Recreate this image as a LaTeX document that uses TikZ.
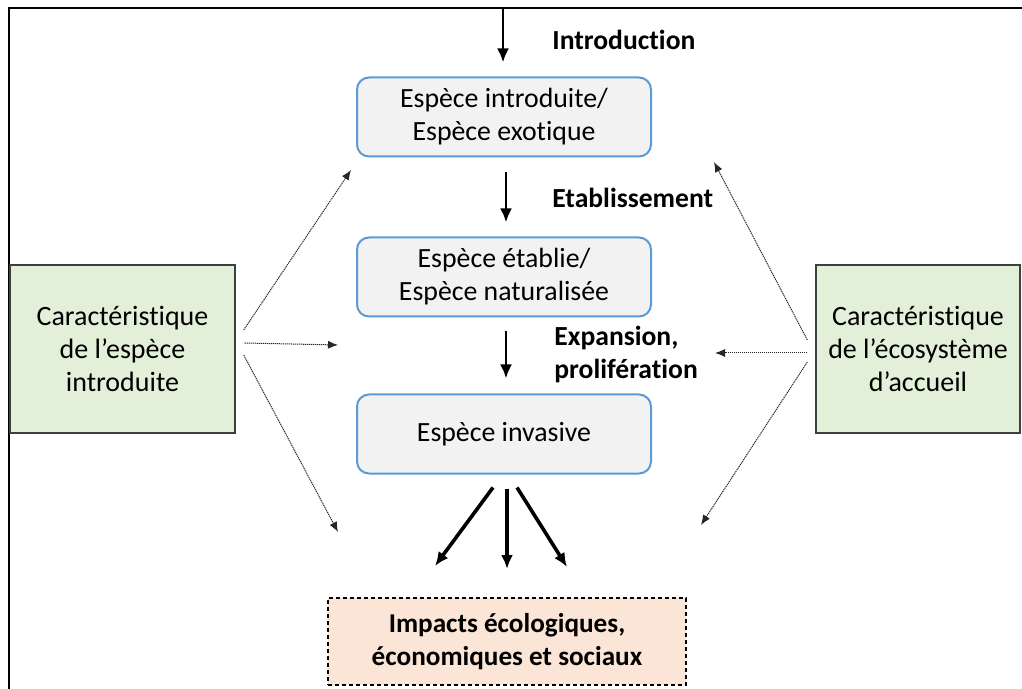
\documentclass[tikz,border=0pt]{standalone}
\usepackage{fontspec}
\setmainfont{Carlito}[Ligatures=NoCommon]
\usetikzlibrary{arrows.meta}
\definecolor{stageblue}{HTML}{5B9BD5}
\definecolor{stagegray}{HTML}{F2F2F2}
\definecolor{factorgreen}{HTML}{E2F0D9}
\definecolor{factorgray}{HTML}{3F3F3F}
\definecolor{impactpeach}{HTML}{FBE5D6}
\begin{document}
\begin{tikzpicture}[x=0.5pt,y=-0.5pt,
  stage/.style={draw=stageblue, line width=1pt, fill=stagegray, rounded corners=6pt,
    minimum width=147pt, minimum height=39.5pt, align=center, inner sep=0pt,
    font=\fontsize{13.9}{16.5}\selectfont},
  factor/.style={draw=factorgray, line width=0.7pt, fill=factorgreen,
    minimum height=84pt, align=center, inner sep=0pt,
    font=\fontsize{14}{16.3}\selectfont},
  impact/.style={draw=black, dash pattern=on 2pt off 1.5pt, line width=0.6pt,
    fill=impactpeach, minimum width=179pt, minimum height=43.5pt, align=center,
    inner sep=0pt, font=\bfseries\fontsize{13.6}{16.5}\selectfont},
  phaselabel/.style={font=\bfseries\fontsize{13.8}{16.5}\selectfont, anchor=west,
    align=left, inner sep=0pt},
  flow/.style={-{Latex[length=7pt,width=6pt]}, line width=1.45pt},
  spread/.style={-{Latex[length=7pt,width=6pt]}, line width=1.8pt},
  influence/.style={-{Latex[length=5pt,width=4pt]}, line width=0.5pt,
    dash pattern=on 0.6pt off 0.4pt, draw=black!85}
]
\useasboundingbox (0,0) rectangle (1022,689);

% frame
\draw[line width=1.25pt] (9,689) -- (9,8) -- (1022,8);

% stages of the invasion process
\node[stage] (intro) at (504,117) {Espèce introduite/\\Espèce exotique};
\node[stage] (etab)  at (504,277) {Espèce établie/\\Espèce naturalisée};
\node[stage] (inv)   at (504,434) {Espèce invasive};

% factors acting on each stage
\node[factor, minimum width=112.5pt] (sp)  at (122.5,349) {Caractéristique\\de l’espèce\\introduite};
\node[factor, minimum width=102pt]   (eco) at (918,349) {Caractéristique\\de l’écosystème\\d’accueil};

% consequences
\node[impact] (imp) at (507,641.5) {Impacts écologiques,\\économiques et sociaux};

% phase labels
\node[phaselabel] (lintro) at (552,40)  {Introduction};
\node[phaselabel] (letab)  at (552,198) {Etablissement};
\node[phaselabel] (lexp)   at (554,354) {Expansion,\\prolifération};

% main flow
\coordinate (entry) at (503,8);
\draw[flow] (entry) -- ([xshift=-0.5pt,yshift=7pt]intro.north);
\draw[flow] ([xshift=1pt,yshift=-7.5pt]intro.south) -- ([xshift=1pt,yshift=7pt]etab.north);
\draw[flow] ([xshift=1pt,yshift=-7pt]etab.south) -- ([xshift=1pt,yshift=7.5pt]inv.north);

% towards impacts
\coordinate (impL) at (435,566);
\coordinate (impM) at (507,569);
\coordinate (impR) at (567,567);
\draw[spread] ([xshift=-5.5pt,yshift=-6.5pt]inv.south) -- (impL);
\draw[spread] ([xshift=1.5pt,yshift=-7pt]inv.south) -- (impM);
\draw[spread] ([xshift=6.5pt,yshift=-6.5pt]inv.south) -- (impR);

% influences of the species traits
\coordinate (spA) at (351,170);
\coordinate (spB) at (338,345);
\coordinate (spC) at (338,532);
\draw[influence] ([xshift=4pt,yshift=9.5pt]sp.east) -- (spA);
\draw[influence] ([xshift=4.5pt,yshift=3pt]sp.east) -- (spB);
\draw[influence] ([xshift=4pt,yshift=-3pt]sp.east) -- (spC);

% influences of the host ecosystem
\coordinate (ecoA) at (714,162);
\coordinate (ecoB) at (715,353);
\coordinate (ecoC) at (701,525);
\draw[influence] ([xshift=-4pt,yshift=4.5pt]eco.west) -- (ecoA);
\draw[influence] ([xshift=-4pt,yshift=-2pt]eco.west) -- (ecoB);
\draw[influence] ([xshift=-4pt,yshift=-6.5pt]eco.west) -- (ecoC);
\end{tikzpicture}
\end{document}
